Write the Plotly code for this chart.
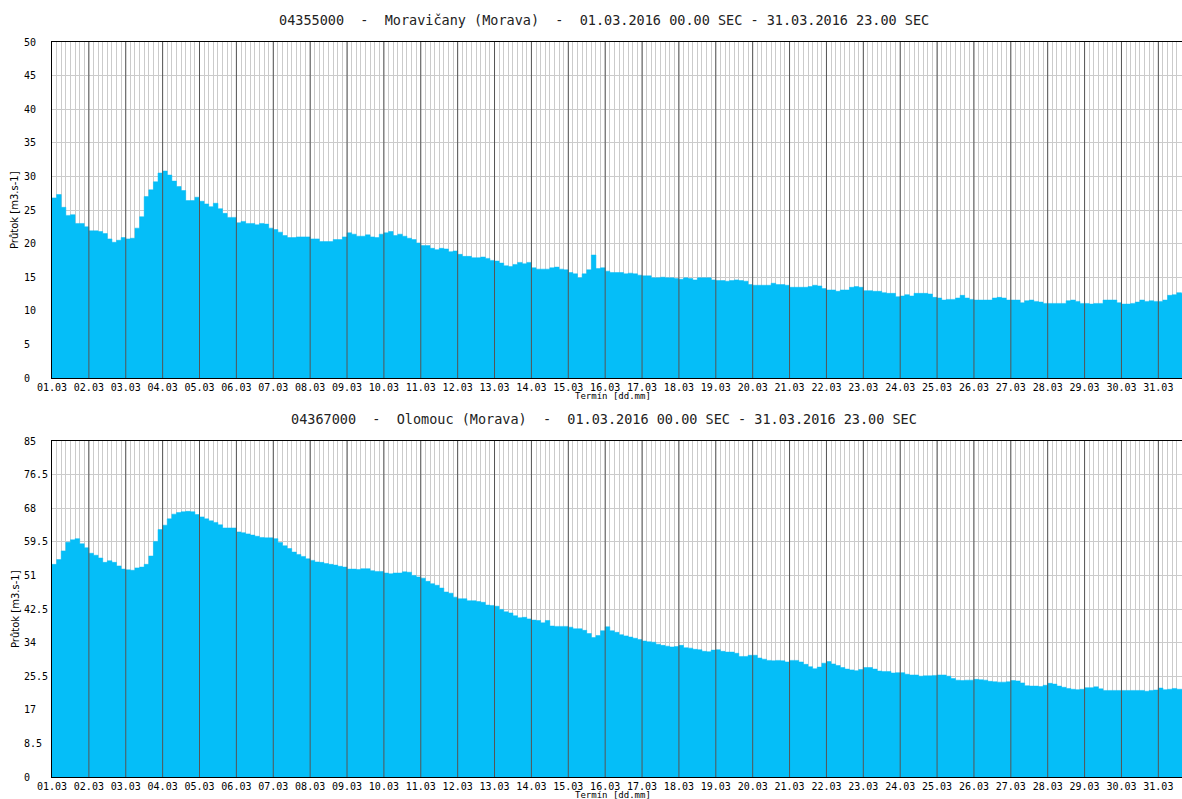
import plotly.graph_objects as go

# ---- data: mean discharge per 3-hour interval, 1.3.2016 00:00 onward (m3/s) ----
day_labels = ["%02d.03" % d for d in range(1, 32)]

moravicany_q = [
    26.8, 27.3, 25.4, 24.2, 24.3, 23.0, 23.0, 22.5,
    21.9, 21.9, 21.8, 21.5, 20.7, 20.2, 20.5, 20.9,
    20.7, 20.8, 22.3, 24.0, 27.0, 28.0, 29.2, 30.5,
    30.8, 30.2, 29.3, 28.5, 27.9, 26.4, 26.4, 26.9,
    26.3, 25.9, 25.5, 26.0, 25.2, 24.5, 23.9, 23.9,
    23.1, 23.3, 23.0, 23.0, 22.8, 23.0, 22.9, 22.3,
    22.1, 21.7, 21.2, 20.9, 20.9, 21.0, 21.0, 21.0,
    20.7, 20.7, 20.3, 20.3, 20.3, 20.6, 20.6, 21.0,
    21.6, 21.4, 21.1, 21.1, 21.3, 21.0, 20.9, 21.4,
    21.6, 21.8, 21.2, 21.4, 21.1, 20.8, 20.6, 20.1,
    19.7, 19.7, 19.3, 19.1, 19.3, 19.2, 18.8, 18.9,
    18.4, 18.1, 18.1, 17.9, 17.9, 18.0, 17.8, 17.5,
    17.4, 17.1, 16.7, 16.6, 16.9, 17.2, 17.0, 17.2,
    16.4, 16.2, 16.2, 16.2, 16.4, 16.5, 16.2, 16.1,
    15.7, 15.5, 14.9, 15.5, 16.1, 18.3, 16.3, 16.4,
    15.9, 15.7, 15.7, 15.7, 15.5, 15.6, 15.5, 15.3,
    15.2, 15.2, 14.9, 14.9, 15.0, 14.9, 14.9, 14.8,
    14.7, 14.9, 14.8, 14.6, 14.9, 14.9, 14.9, 14.6,
    14.5, 14.5, 14.4, 14.5, 14.6, 14.5, 14.4, 13.9,
    13.8, 13.8, 13.8, 13.8, 14.1, 13.9, 13.9, 13.8,
    13.5, 13.5, 13.5, 13.5, 13.6, 13.8, 13.7, 13.3,
    13.1, 13.1, 12.9, 13.1, 13.1, 13.5, 13.6, 13.5,
    13.0, 13.0, 12.9, 12.9, 12.7, 12.6, 12.6, 12.1,
    12.2, 12.4, 12.2, 12.6, 12.6, 12.6, 12.5, 12.0,
    11.9, 11.6, 11.7, 11.7, 11.9, 12.3, 11.9, 11.7,
    11.6, 11.6, 11.6, 11.6, 11.9, 12.0, 11.9, 11.6,
    11.6, 11.6, 11.2, 11.5, 11.6, 11.4, 11.3, 11.1,
    11.1, 11.1, 11.1, 11.1, 11.5, 11.6, 11.4, 11.1,
    11.1, 11.0, 11.1, 11.1, 11.6, 11.6, 11.6, 11.2,
    11.0, 11.0, 11.1, 11.3, 11.6, 11.4, 11.5, 11.4,
    11.4, 11.6, 12.3, 12.4, 12.7, 12.6,
]

olomouc_q = [
    53.8, 55.0, 57.2, 59.4, 60.0, 60.3, 59.0, 58.0,
    56.6, 56.1, 55.4, 54.3, 54.7, 54.3, 53.4, 52.6,
    52.4, 52.3, 52.9, 53.1, 53.8, 55.9, 59.6, 62.6,
    63.7, 65.3, 66.5, 66.9, 67.1, 67.2, 67.1, 66.4,
    65.8, 65.3, 64.8, 64.4, 63.8, 63.0, 63.0, 63.0,
    62.0, 61.8, 61.5, 61.2, 60.9, 60.6, 60.5, 60.5,
    60.3, 59.3, 58.5, 57.8, 56.9, 56.3, 55.8, 55.2,
    54.8, 54.4, 54.3, 54.0, 53.8, 53.6, 53.3, 53.1,
    52.6, 52.6, 52.5, 52.7, 52.7, 52.2, 52.0, 52.0,
    51.6, 51.4, 51.6, 51.6, 51.9, 51.8, 51.0, 50.6,
    50.3, 49.5, 48.9, 48.5, 47.8, 46.8, 46.5, 45.5,
    45.1, 45.1, 44.6, 44.6, 44.4, 44.2, 43.5, 43.4,
    43.2, 42.4, 41.8, 41.5, 40.8, 40.3, 40.4, 40.0,
    39.7, 39.6, 39.0, 39.6, 38.2, 38.1, 38.1, 38.1,
    37.9, 37.5, 37.5, 37.1, 36.3, 35.3, 35.8, 37.0,
    38.0, 37.0, 36.6, 36.0, 35.7, 35.4, 35.1, 34.8,
    34.4, 34.2, 34.1, 33.6, 33.3, 33.1, 32.9, 33.0,
    33.3, 32.7, 32.6, 32.3, 32.2, 31.8, 31.7, 32.1,
    32.2, 31.8, 31.6, 31.6, 31.3, 30.5, 30.5, 30.8,
    30.8, 30.1, 29.8, 29.5, 29.4, 29.5, 29.4, 29.1,
    29.5, 29.5, 29.1, 28.5, 27.9, 27.4, 27.8, 28.8,
    29.2, 28.6, 28.2, 27.7, 27.3, 27.1, 26.9, 27.2,
    27.7, 27.7, 27.3, 26.8, 26.7, 26.7, 26.3, 26.4,
    26.4, 26.0, 25.8, 25.8, 25.5, 25.6, 25.6, 25.7,
    25.8, 25.8, 25.5, 24.9, 24.5, 24.4, 24.5, 24.5,
    24.7, 24.6, 24.5, 24.2, 24.1, 24.0, 24.0, 24.1,
    24.4, 24.3, 23.8, 23.1, 23.0, 23.0, 22.9, 23.2,
    23.7, 23.5, 23.0, 22.7, 22.4, 22.2, 22.1, 22.2,
    22.6, 22.6, 22.8, 22.3, 21.9, 21.9, 21.9, 21.9,
    21.9, 21.9, 21.9, 21.9, 21.9, 21.7, 21.9, 22.0,
    22.5, 22.1, 22.2, 22.4, 22.2, 22.2,
]

top_yticks = [0, 5, 10, 15, 20, 25, 30, 35, 40, 45, 50]
bottom_yticks = [0, 8.5, 17, 25.5, 34, 42.5, 51, 59.5, 68, 76.5, 85]

titles = [
    "04355000  -  Moravičany (Morava)  -  01.03.2016 00.00 SEC - 31.03.2016 23.00 SEC",
    "04367000  -  Olomouc (Morava)  -  01.03.2016 00.00 SEC - 31.03.2016 23.00 SEC",
]
y_title = "Průtok [m3.s-1]"
x_title = "Termín [dd.mm]"

# ---- styling ----
FILL = "#05BEF8"
DAY_LINE = "#555555"
GRID = "#CBCBCB"
MONO = "DejaVu Sans Mono"
STEP_H = 3
X_RANGE = [0, 735.4]
NBSP = "\u00a0"

W, H = 1182, 799
ML, MR, MT, MB = 52, 0, 42, 22
plot_h = H - MT - MB


def py(pix):  # pixel row -> paper y
    return (H - MB - pix) / plot_h


def px(pix):  # pixel col -> paper x
    return (pix - ML) / (W - ML - MR)


def left_aligned(vals):
    txt = ["%g" % v for v in vals]
    n = max(len(t) for t in txt)
    return [t + NBSP * (n - len(t)) for t in txt]


fig = go.Figure()

series = [moravicany_q, olomouc_q]
for i, vals in enumerate(series):
    xs = [STEP_H * k for k in range(len(vals) + 1)]
    ys = list(vals) + [vals[-1]]
    fig.add_trace(go.Scatter(
        x=xs, y=ys, mode="lines", line=dict(shape="hv", width=0.5, color=FILL),
        fill="tozeroy", fillcolor=FILL, hoverinfo="skip", showlegend=False,
        xaxis="x" if i == 0 else "x2", yaxis="y" if i == 0 else "y2",
    ))

tickvals = [24 * k for k in range(len(day_labels))]

xcommon = dict(
    range=X_RANGE, tickmode="array", tickvals=tickvals, ticktext=day_labels,
    showgrid=False, zeroline=False, showline=True, linecolor="black", linewidth=1,
    mirror=True, ticks="", tickfont=dict(family=MONO, size=10, color="black"),
    ticklabelstandoff=0,
    minor=dict(dtick=STEP_H, tick0=0, showgrid=True, gridcolor=GRID, gridwidth=1),
)
ycommon = dict(
    showgrid=True, gridcolor=GRID, gridwidth=1, zeroline=False, showline=True,
    linecolor="black", linewidth=1, ticks="", tickmode="array",
    tickfont=dict(family=MONO, size=10, color="black"),
)

top_dom = [py(378), 1.0]
bot_dom = [0.0, py(441)]

fig.update_layout(
    width=W, height=H, margin=dict(l=ML, r=MR, t=MT, b=MB, pad=0),
    paper_bgcolor="white", plot_bgcolor="white",
    xaxis=dict(domain=[0, 1], anchor="y", **xcommon),
    yaxis=dict(domain=top_dom, anchor="x", range=[0, 50], tickvals=top_yticks,
               ticktext=left_aligned(top_yticks), ticklabelstandoff=13, **ycommon),
    xaxis2=dict(domain=[0, 1], anchor="y2", **xcommon),
    yaxis2=dict(domain=bot_dom, anchor="x2", range=[0, 85], tickvals=bottom_yticks,
                ticktext=left_aligned(bottom_yticks), ticklabelstandoff=1, **ycommon),
)

shapes = []
for xa, ya in (("x", "y domain"), ("x2", "y2 domain")):
    for t in tickvals[1:]:
        shapes.append(dict(type="line", xref=xa, yref=ya, x0=t, x1=t, y0=0, y1=1,
                           line=dict(color=DAY_LINE, width=1), layer="above"))
fig.update_layout(shapes=shapes)

ann = []
font_t = dict(family=MONO, size=13.5, color="#222222")
font_s = dict(family=MONO, size=9, color="black")
for title, ty, xty, ymid in ((titles[0], 20, 396, 210), (titles[1], 419, 795, 609)):
    ann.append(dict(text=title, xref="paper", yref="paper", x=px(604), y=py(ty),
                    xanchor="center", yanchor="middle", showarrow=False, font=font_t))
    ann.append(dict(text=x_title, xref="paper", yref="paper", x=px(613), y=py(xty),
                    xanchor="center", yanchor="middle", showarrow=False, font=font_s))
    ann.append(dict(text=y_title, xref="paper", yref="paper", x=px(15), y=py(ymid),
                    xanchor="center", yanchor="middle", showarrow=False, textangle=-90,
                    font=dict(family="DejaVu Sans", size=10, color="black")))
fig.update_layout(annotations=ann)

fig.write_html("out.html", config={"displayModeBar": False},
               post_script="document.body.style.margin='0';document.body.style.overflow='hidden';")
